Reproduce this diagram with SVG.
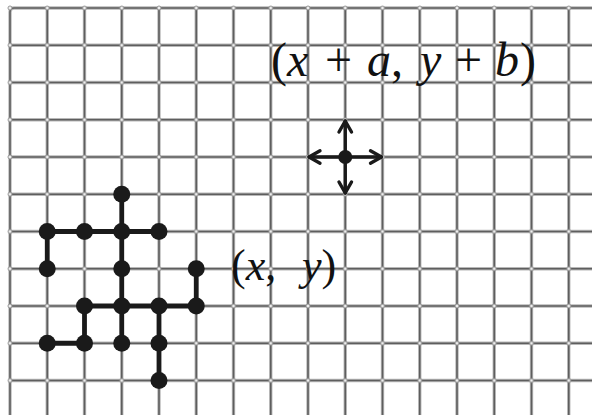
<svg xmlns="http://www.w3.org/2000/svg" width="592" height="415" viewBox="0 0 592 415">
<style>
.gu{fill:none;stroke:#b8b8b8;stroke-width:3.4}
.g{fill:none;stroke:#5e5e5e;stroke-width:1.6}
.edge{fill:none;stroke:#1a1a1a;stroke-width:4.8;stroke-linecap:round}
.node{fill:#1a1a1a}
.arr{fill:none;stroke:#1a1a1a;stroke-width:3.4;stroke-linecap:round;stroke-linejoin:round}
.lbl{font-family:"Liberation Serif","Times New Roman",serif;fill:#111;white-space:pre}
.it{font-style:italic}
</style>
<defs>
<pattern id="dots" patternUnits="userSpaceOnUse" x="-8.625" y="-10.625" width="37.25" height="37.25">
<circle cx="18.625" cy="18.625" r="2" fill="#efefef" stroke="#8c8c8c" stroke-width="0.9"/>
</pattern>
<path id="gridpath" d="M10,415V12Q10,8 14,8H592M47.25,8V415M84.5,8V415M121.75,8V415M159,8V415M196.25,8V415M233.5,8V415M270.75,8V415M308,8V415M345.25,8V415M382.5,8V415M419.75,8V415M457,8V415M494.25,8V415M531.5,8V415M568.75,8V415M10,45.25H592M10,82.5H592M10,119.75H592M10,157H592M10,194.25H592M10,231.5H592M10,268.75H592M10,306H592M10,343.25H592M10,380.5H592"/>
</defs>
<rect width="592" height="415" fill="#fff"/>
<g id="grid">
<use href="#gridpath" class="gu"/>
<use href="#gridpath" class="g"/>
<rect x="7" y="5" width="585" height="410" fill="url(#dots)"/>
</g>
<g id="connectors">
<path class="edge" d="M121.75,194.25V343.25M47.25,231.5H159M47.25,231.5V268.75M196.25,268.75V306M84.5,306H196.25M84.5,306V343.25M47.25,343.25H84.5M159,306V380.5"/>
</g>
<g id="n1"><circle class="node" cx="121.75" cy="194.25" r="8.5"/></g>
<g id="n2"><circle class="node" cx="47.25" cy="231.5" r="8.5"/></g>
<g id="n3"><circle class="node" cx="84.5" cy="231.5" r="8.5"/></g>
<g id="n4"><circle class="node" cx="121.75" cy="231.5" r="8.5"/></g>
<g id="n5"><circle class="node" cx="159" cy="231.5" r="8.5"/></g>
<g id="n6"><circle class="node" cx="47.25" cy="268.75" r="8.5"/></g>
<g id="n7"><circle class="node" cx="121.75" cy="268.75" r="8.5"/></g>
<g id="n8"><circle class="node" cx="196.25" cy="268.75" r="8.5"/></g>
<g id="n9"><circle class="node" cx="84.5" cy="306" r="8.5"/></g>
<g id="n10"><circle class="node" cx="121.75" cy="306" r="8.5"/></g>
<g id="n11"><circle class="node" cx="159" cy="306" r="8.5"/></g>
<g id="n12"><circle class="node" cx="196.25" cy="306" r="8.5"/></g>
<g id="n13"><circle class="node" cx="47.25" cy="343.25" r="8.5"/></g>
<g id="n14"><circle class="node" cx="84.5" cy="343.25" r="8.5"/></g>
<g id="n15"><circle class="node" cx="121.75" cy="343.25" r="8.5"/></g>
<g id="n16"><circle class="node" cx="159" cy="343.25" r="8.5"/></g>
<g id="n17"><circle class="node" cx="159" cy="380.5" r="8.5"/></g>
<g id="move">
<path class="arr" d="M345.25,121V193M309,157H381.5"/>
<path class="arr" d="M339,132L345.25,121L351.5,132M339,182L345.25,193L351.5,182M320,150.75L309,157L320,163.25M370.5,150.75L381.5,157L370.5,163.25"/>
<circle class="node" cx="345.25" cy="157" r="7"/>
</g>
<g id="label-target">
<text class="lbl" y="75.5" font-size="48"><tspan x="271">(</tspan><tspan class="it">x</tspan><tspan x="325">+</tspan><tspan x="367" class="it">a</tspan><tspan>,</tspan><tspan x="420" class="it">y</tspan><tspan x="455">+</tspan><tspan x="495" class="it">b</tspan><tspan x="520">)</tspan></text>
</g>
<g id="label-origin">
<text class="lbl" y="280" font-size="44"><tspan x="231">(</tspan><tspan class="it">x</tspan><tspan>,</tspan><tspan x="302" class="it">y</tspan><tspan>)</tspan></text>
</g>
</svg>
